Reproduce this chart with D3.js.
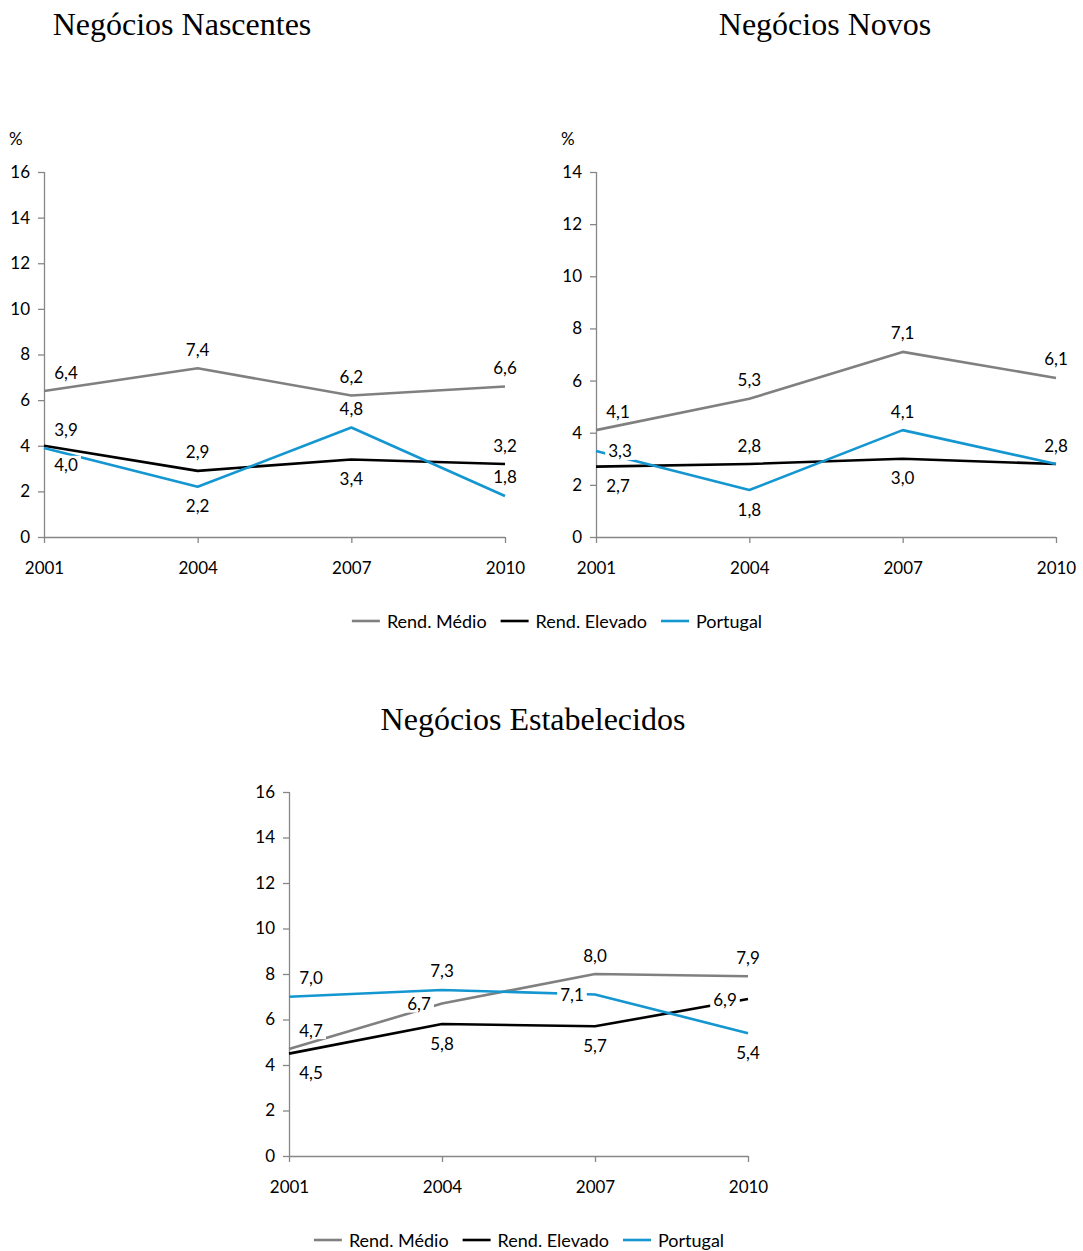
<!DOCTYPE html>
<html>
<head>
<meta charset="utf-8">
<script src="https://cdn.jsdelivr.net/npm/d3@7"></script>
<style>
  html, body { margin: 0; padding: 0; background: #fff; }
  svg { display: block; }
  .title { font-family: "Liberation Serif", "Times New Roman", serif; font-size: 32px; fill: #000; }
  .tick text, .lbl, .unit { font-family: Lato, "Open Sans", sans-serif; font-size: 17px; fill: #000; }
  .legend text { font-family: Lato, "Open Sans", sans-serif; font-size: 18px; fill: #000; }
</style>
</head>
<body>
<svg id="chart" width="1083" height="1251"></svg>
<script>
// Survey years on the horizontal axis
const years = ["2001", "2004", "2007", "2010"];
const seriesNames = ["Rend. Médio", "Rend. Elevado", "Portugal"];

// Negócios Nascentes (%)
const nascentesMedio   = [6.4, 7.4, 6.2, 6.6];
const nascentesElevado = [4.0, 2.9, 3.4, 3.2];
const nascentesPortugal = [3.9, 2.2, 4.8, 1.8];

// Negócios Novos (%)
const novosMedio   = [4.1, 5.3, 7.1, 6.1];
const novosElevado = [2.7, 2.8, 3.0, 2.8];
const novosPortugal = [3.3, 1.8, 4.1, 2.8];

// Negócios Estabelecidos (%)
const estabMedio   = [4.7, 6.7, 8.0, 7.9];
const estabElevado = [4.5, 5.8, 5.7, 6.9];
const estabPortugal = [7.0, 7.3, 7.1, 5.4];

// Y-axis ticks per panel
const ticks16 = [0, 2, 4, 6, 8, 10, 12, 14, 16];
const ticks14 = [0, 2, 4, 6, 8, 10, 12, 14];

// Where each value label sits relative to its point
const nascentesLabelPos = [
  ["above", "above", "above", "above"],
  ["below", "above", "below", "above"],
  ["above", "below", "above", "above"]
];
const novosLabelPos = [
  ["above", "above", "above", "above"],
  ["below", "above", "below", "above"],
  ["right", "below", "above", "above"]
];
const estabLabelPos = [
  ["above", "left", "above", "above"],
  ["below", "below", "below", "left"],
  ["above", "above", "left", "below"]
];

const colors = ["#808080", "#000000", "#1496d0"];
const axisColor = "#878787";
const fmt = v => d3.format(".1f")(v).replace(".", ",");

const svg = d3.select("#chart");

function panel(opts) {
  const g = svg.append("g");
  const x = d3.scalePoint().domain(years).range([opts.left, opts.right]);
  const y = d3.scaleLinear().domain([0, d3.max(opts.ticks)]).range([opts.bottom, opts.top]);

  g.append("text").attr("class", "title")
    .attr("x", opts.titleX).attr("y", opts.titleY)
    .attr("text-anchor", "middle").text(opts.title);

  if (opts.unit) {
    g.append("text").attr("class", "unit")
      .attr("x", opts.left - 35).attr("y", opts.top - 27)
      .text("%");
  }

  const yAxis = g.append("g")
    .attr("transform", `translate(${opts.left},0)`)
    .call(d3.axisLeft(y).tickValues(opts.ticks).tickSize(6).tickPadding(8).tickFormat(d3.format("d")));
  const xAxis = g.append("g")
    .attr("transform", `translate(0,${opts.bottom})`)
    .call(d3.axisBottom(x).tickSize(6).tickPadding(19));
  [yAxis, xAxis].forEach(a => {
    a.select(".domain").attr("stroke", axisColor).attr("stroke-width", 1.3);
    a.selectAll(".tick line").attr("stroke", axisColor).attr("stroke-width", 1.3);
    a.selectAll(".tick text").attr("fill", "#000");
  });
  xAxis.select(".domain").attr("d", `M${opts.left},0.5H${opts.right}`);
  yAxis.select(".domain").attr("d", `M0.5,${opts.bottom}V${opts.top}`);

  const line = d3.line().x((d, i) => x(years[i])).y(d => y(d));
  opts.series.forEach((vals, s) => {
    g.append("path").attr("d", line(vals))
      .attr("fill", "none").attr("stroke", colors[s])
      .attr("stroke-width", 2.6).attr("stroke-linejoin", "round");
  });

  // value labels with an opaque backing, drawn over the lines
  const lg = g.append("g");
  opts.series.forEach((vals, s) => {
    vals.forEach((v, i) => {
      const pos = opts.labelPos[s][i];
      let cx = x(years[i]), cy = y(v);
      if (pos === "above") cy -= 19;
      if (pos === "below") cy += 19;
      if (pos === "left") cx -= 23;
      if (pos === "right") cx += 24;
      if (i === 0 && (pos === "above" || pos === "below")) cx += 22;
      const t = lg.append("text").attr("class", "lbl")
        .attr("x", cx).attr("y", cy)
        .attr("text-anchor", "middle").attr("dominant-baseline", "central")
        .text(fmt(v));
      const bb = t.node().getBBox();
      lg.insert("rect", () => t.node())
        .attr("x", bb.x - 3).attr("y", cy - 9)
        .attr("width", bb.width + 6).attr("height", 18)
        .attr("fill", "#fff");
    });
  });
}

function legend(cx, cy) {
  const g = svg.append("g").attr("class", "legend");
  const sw = 28, gapText = 7, gapItem = 14;
  const widths = seriesNames.map(n => {
    const t = g.append("text").text(n);
    const w = t.node().getComputedTextLength();
    t.remove();
    return w;
  });
  const total = d3.sum(widths) + seriesNames.length * (sw + gapText) + (seriesNames.length - 1) * gapItem;
  let xPos = cx - total / 2;
  seriesNames.forEach((n, i) => {
    g.append("line").attr("x1", xPos).attr("x2", xPos + sw)
      .attr("y1", cy).attr("y2", cy)
      .attr("stroke", colors[i]).attr("stroke-width", 2.6);
    g.append("text").attr("x", xPos + sw + gapText).attr("y", cy)
      .attr("dominant-baseline", "central").text(n);
    xPos += sw + gapText + widths[i] + gapItem;
  });
}

panel({
  title: "Negócios Nascentes", titleX: 182, titleY: 35, unit: true,
  left: 44, right: 505, top: 172, bottom: 537, ticks: ticks16,
  series: [nascentesMedio, nascentesElevado, nascentesPortugal],
  labelPos: nascentesLabelPos
});
panel({
  title: "Negócios Novos", titleX: 825, titleY: 35, unit: true,
  left: 596, right: 1056, top: 172, bottom: 537, ticks: ticks14,
  series: [novosMedio, novosElevado, novosPortugal],
  labelPos: novosLabelPos
});
legend(557, 621);

panel({
  title: "Negócios Estabelecidos", titleX: 533, titleY: 730, unit: false,
  left: 289, right: 748, top: 792, bottom: 1156, ticks: ticks16,
  series: [estabMedio, estabElevado, estabPortugal],
  labelPos: estabLabelPos
});
legend(519, 1240);
</script>
</body>
</html>
